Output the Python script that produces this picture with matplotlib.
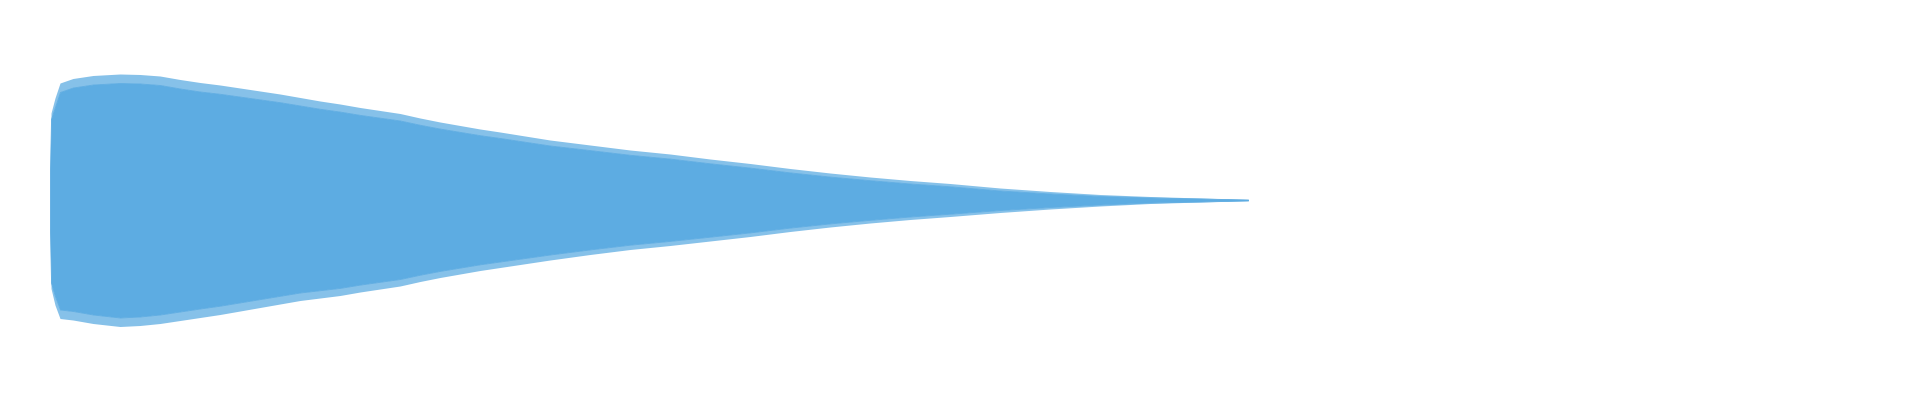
import numpy as np
import matplotlib
matplotlib.use("Agg")
import matplotlib.pyplot as plt

# Enveloppe de la forme d'onde, lue sur l'image
# temps en s, amplitude en unités arbitraires (pleine échelle = 150)
temps = [0.0, 0.0017, 0.0083, 0.0167, 0.0383, 0.0717, 0.1167, 0.15, 0.1833,
         0.2167, 0.25, 0.2833, 0.3167, 0.35, 0.3833, 0.4167, 0.45, 0.4833,
         0.5167, 0.55, 0.5833, 0.6167, 0.65, 0.6833, 0.7167, 0.75, 0.8333,
         0.9, 0.9667, 1.0333, 1.1, 1.1667, 1.2333, 1.3, 1.3667, 1.4333, 1.5,
         1.5833, 1.6667, 1.75, 1.8333, 1.9167, 1.9967]

# crêtes positives (bord supérieur)
crete_haut = [27, 87, 102, 117, 121.5, 124.5, 126, 125.5, 124, 120.5, 117.5,
              115, 112, 109, 106, 102.5, 99, 96, 92.5, 89.5, 86.5, 82, 78,
              74.5, 71, 68, 60, 55, 50, 46, 41, 36.5, 31.5, 27, 23, 19.5,
              16.5, 12, 8.5, 5.5, 3.5, 2, 0.5]

# crêtes négatives (bord inférieur, en valeur absolue)
crete_bas = [28, 88.5, 105, 118.5, 120, 123.5, 126.5, 125.5, 123.5, 120.5,
             117.5, 114.5, 111, 107.5, 104, 100.5, 98, 95.5, 92, 89, 86, 81.5,
             77.5, 74, 70.5, 67.5, 60, 54.5, 49.5, 45.5, 41, 36.5, 31.5, 27,
             23, 19.5, 16.5, 12.5, 9, 6, 3.5, 2, 0.5]

# profondeur des dents (écart crête / creux des oscillations)
dents = [0, 6, 9, 9, 9, 9, 9, 9, 9, 9, 9, 8.8, 8.6, 8.4, 8.2, 8, 7.8, 7.6,
         7.4, 7.2, 7, 6.8, 6.6, 6.4, 6.2, 6, 5.5, 5.1, 4.8, 4.6, 4.3, 4.1,
         3.9, 3.6, 3.2, 3, 2.8, 2.5, 2, 1.5, 1, 0.5, 0]

couleur = "#5dace2"

t = np.array(temps)
haut = np.array(crete_haut)
bas = -np.array(crete_bas)
d = np.array(dents)

fig = plt.figure(figsize=(19.2, 4), dpi=100)
ax = fig.add_axes([50 / 1920, 50 / 400, 1800 / 1920, 300 / 400])

# corps plein entre les creux
ax.fill_between(t, haut - d, bas + d, color=couleur, lw=0.6)
# bande dentelée des crêtes (densité moyenne)
ax.fill_between(t, haut - d, haut, color=couleur, alpha=0.75, lw=0)
ax.fill_between(t, bas + d, bas, color=couleur, alpha=0.75, lw=0)

ax.set_xlim(0, 3.0)
ax.set_ylim(-150, 150)
ax.axis("off")

fig.savefig("out.png", dpi=100, facecolor="white")
